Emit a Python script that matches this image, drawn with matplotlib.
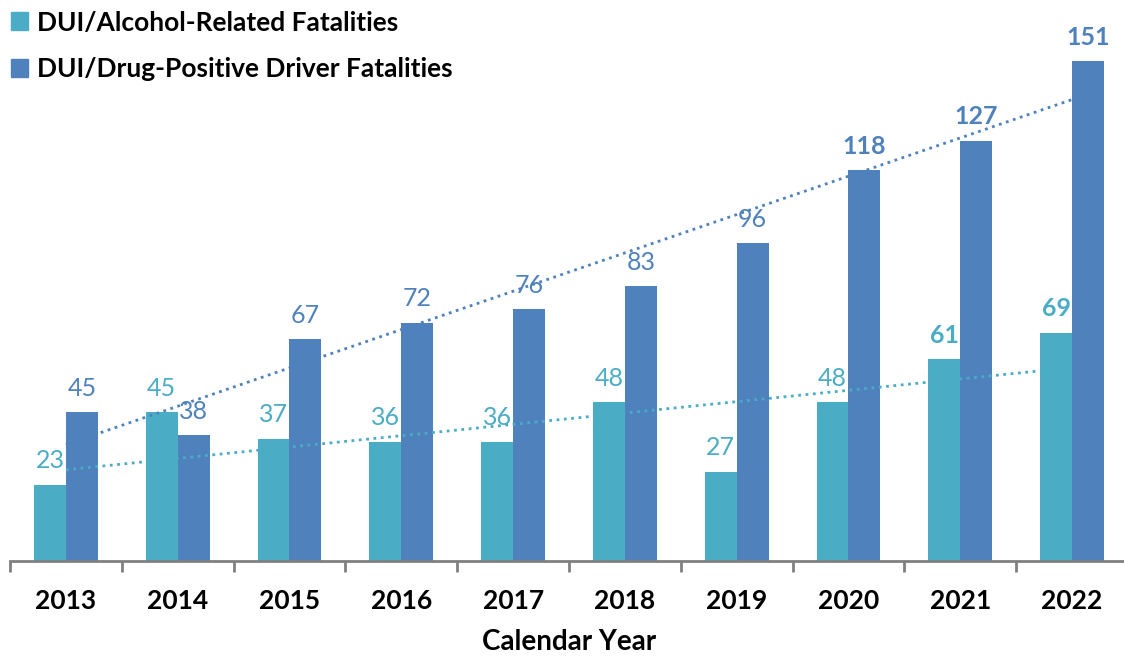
import numpy as np
import matplotlib.pyplot as plt
from matplotlib.patches import Patch

# data
years = ['2013', '2014', '2015', '2016', '2017', '2018', '2019', '2020', '2021', '2022']
alcohol = [23, 45, 37, 36, 36, 48, 27, 48, 61, 69]
drug = [45, 38, 67, 72, 76, 83, 96, 118, 127, 151]
bold_alcohol = ['2021', '2022']
bold_drug = ['2020', '2021', '2022']

c_alc = '#4BACC6'
c_drug = '#4F81BD'

plt.rcParams['font.family'] = ['Lato', 'DejaVu Sans']

fig = plt.figure(figsize=(11.24, 6.6), dpi=100)
ax = fig.add_axes([10/1124, 99/660, 1118/1124, 561/660])

x = np.arange(len(years))
w = 0.286
ax.bar(x - w/2, alcohol, w, color=c_alc)
ax.bar(x + w/2, drug, w, color=c_drug)

# linear trend lines through the group centres
for vals, col in [(alcohol, c_alc), (drug, c_drug)]:
    k, b = np.polyfit(x, vals, 1)
    ax.plot([x[0], x[-1]], [b + k*x[0], b + k*x[-1]], ls=':', lw=2, color=col)

# value labels
for i, yr in enumerate(years):
    ax.annotate(str(alcohol[i]), (x[i] - w/2, alcohol[i]), xytext=(0, 9),
                textcoords='offset points', ha='center', va='bottom', fontsize=18,
                color=c_alc, fontweight='bold' if yr in bold_alcohol else 'normal')
    ax.annotate(str(drug[i]), (x[i] + w/2, drug[i]), xytext=(0, 9),
                textcoords='offset points', ha='center', va='bottom', fontsize=18,
                color=c_drug, fontweight='bold' if yr in bold_drug else 'normal')

ax.set_xlim(-0.5, 9.5)
ax.set_ylim(0, 169.5)
ax.set_xticks(x)
ax.set_xticklabels(years, fontsize=19, fontweight='bold')
ax.set_xticks(np.arange(-0.5, 10, 1), minor=True)
ax.tick_params(axis='x', which='major', length=0, pad=20)
ax.tick_params(axis='x', which='minor', length=8, width=2, color='#808080')
ax.set_yticks([])
for s in ['top', 'right', 'left']:
    ax.spines[s].set_visible(False)
ax.spines['bottom'].set_color('#808080')
ax.spines['bottom'].set_linewidth(2)
ax.set_xlabel('Calendar Year', fontsize=20, fontweight='bold', labelpad=12)

handles = [Patch(color=c_alc), Patch(color=c_drug)]
fig.legend(handles, ['DUI/Alcohol-Related Fatalities', 'DUI/Drug-Positive Driver Fatalities'],
           loc='upper left', bbox_to_anchor=(-0.007, 1.012), frameon=False,
           prop={'size': 19, 'weight': 'bold'}, handlelength=0.65, handleheight=0.65,
           handletextpad=0.35, labelspacing=0.85, borderaxespad=0.3)

fig.savefig('out.png', dpi=100)
